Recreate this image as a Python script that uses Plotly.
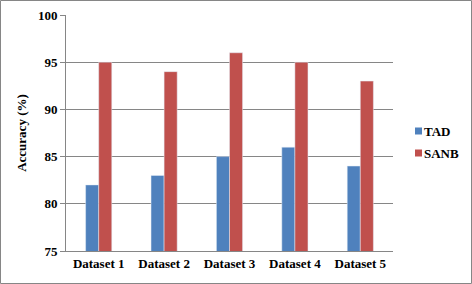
import plotly.graph_objects as go

categories = ["Dataset 1", "Dataset 2", "Dataset 3", "Dataset 4", "Dataset 5"]
tad = [82, 83, 85, 86, 84]
sanb = [95, 94, 96, 95, 93]
series_names = ["TAD", "SANB"]
series_colors = ["#4F81BD", "#C0504D"]

W, H = 472, 284
ml, mr, mt, mb = 66, 79, 15, 33
pw, ph = W - ml - mr, H - mt - mb

fam = "Liberation Serif, Times New Roman, serif"
font = dict(family=fam, size=13, color="#000000")

def px_x(p):
    return (p - ml) / pw

def px_y(p):
    return (H - mb - p) / ph

fig = go.Figure()
for name, vals, col in zip(series_names, [tad, sanb], series_colors):
    fig.add_trace(go.Bar(x=categories, y=vals, name=name, marker_color=col, showlegend=False))

fig.update_layout(
    width=W, height=H,
    autosize=False,
    margin=dict(l=ml, r=mr, t=mt, b=mb, pad=0, autoexpand=False),
    paper_bgcolor="white", plot_bgcolor="white",
    barmode="group", bargap=0.6, bargroupgap=0,
    font=font,
    showlegend=False,
    xaxis=dict(showline=True, linecolor="#868686", linewidth=1, ticks="", automargin=False,
               tickfont=dict(family=fam, size=13, color="#000"),
               ticktext=["<b>%s</b>" % c for c in categories], tickvals=categories),
    yaxis=dict(range=[75, 100], dtick=5, showgrid=True, gridcolor="#868686", gridwidth=1,
               showline=True, linecolor="#868686", linewidth=1, automargin=False,
               ticks="outside", ticklen=5, tickcolor="#868686",
               tickvals=[75, 80, 85, 90, 95, 100],
               ticktext=["<b>%d</b>" % v for v in [75, 80, 85, 90, 95, 100]],
               tickfont=dict(family=fam, size=13, color="#000"),
               title=dict(text="<b>Accuracy (%)</b>", standoff=8,
                          font=dict(family=fam, size=13, color="#000"))),
)

# legend (drawn as small squares + text, as in the reference)
leg_y = [131, 153]
for name, col, yc in zip(series_names, series_colors, leg_y):
    fig.add_shape(type="rect", xref="paper", yref="paper",
                  x0=px_x(415), x1=px_x(422), y0=px_y(yc + 3.5), y1=px_y(yc - 3.5),
                  line=dict(width=0), fillcolor=col)
    fig.add_annotation(xref="paper", yref="paper", x=px_x(422), y=px_y(yc),
                       xanchor="left", yanchor="middle", showarrow=False,
                       text="<b>%s</b>" % name,
                       font=dict(family=fam, size=13, color="#000"))

# outer chart border
fig.add_shape(type="rect", xref="paper", yref="paper",
              x0=px_x(0.5), x1=px_x(W - 0.5),
              y0=px_y(H - 0.5), y1=px_y(0.5),
              line=dict(color="#868686", width=1), fillcolor="rgba(0,0,0,0)", layer="above")

fig.write_html("out.html", config={"displayModeBar": False},
               post_script="document.body.style.margin='0';document.body.style.padding='0';")
